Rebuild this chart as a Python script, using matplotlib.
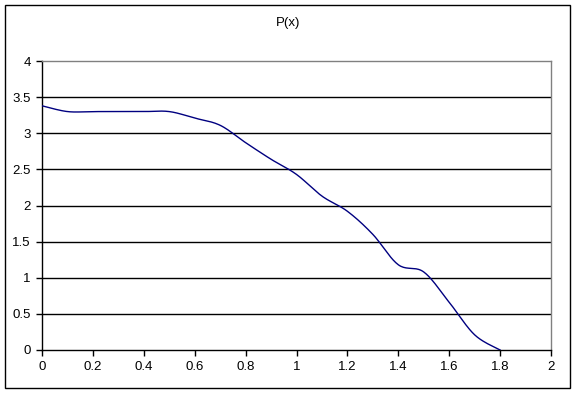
import numpy as np
import matplotlib
matplotlib.use("Agg")
import matplotlib.pyplot as plt
from matplotlib.patches import Rectangle

plt.rcParams["font.family"] = ["Liberation Sans", "DejaVu Sans"]

# values
x_vals = [0.0, 0.1, 0.2, 0.3, 0.4, 0.5, 0.6, 0.7, 0.8, 0.9,
          1.0, 1.1, 1.2, 1.3, 1.4, 1.5, 1.6, 1.7, 1.8]
p_vals = [3.38, 3.3, 3.3, 3.3, 3.3, 3.3, 3.21, 3.11, 2.87, 2.64,
          2.43, 2.13, 1.92, 1.6, 1.18, 1.08, 0.66, 0.21, 0.0]
x_ticks = [0, 0.2, 0.4, 0.6, 0.8, 1, 1.2, 1.4, 1.6, 1.8, 2]
y_ticks = [0, 0.5, 1, 1.5, 2, 2.5, 3, 3.5, 4]


def smooth(xs, ys, n=20):
    # catmull-rom style smoothing like the spreadsheet "smoothed line"
    xs = np.asarray(xs, float)
    ys = np.asarray(ys, float)
    px = np.concatenate([[xs[0]], xs, [xs[-1]]])
    py = np.concatenate([[ys[0]], ys, [ys[-1]]])
    out_x, out_y = [], []
    t = np.linspace(0, 1, n, endpoint=False)
    for i in range(1, len(px) - 2):
        p0x, p1x, p2x, p3x = px[i - 1], px[i], px[i + 1], px[i + 2]
        p0y, p1y, p2y, p3y = py[i - 1], py[i], py[i + 1], py[i + 2]
        c1x, c1y = p1x + (p2x - p0x) / 6, p1y + (p2y - p0y) / 6
        c2x, c2y = p2x - (p3x - p1x) / 6, p2y - (p3y - p1y) / 6
        bx = (1 - t) ** 3 * p1x + 3 * (1 - t) ** 2 * t * c1x + 3 * (1 - t) * t ** 2 * c2x + t ** 3 * p2x
        by = (1 - t) ** 3 * p1y + 3 * (1 - t) ** 2 * t * c1y + 3 * (1 - t) * t ** 2 * c2y + t ** 3 * p2y
        out_x.extend(bx)
        out_y.extend(by)
    out_x.append(xs[-1])
    out_y.append(ys[-1])
    return out_x, out_y


fig = plt.figure(figsize=(5.76, 3.94), dpi=100)
ax = fig.add_axes([42 / 576, 1 - 350 / 394, 509 / 576, 289 / 394])

sx, sy = smooth(x_vals, p_vals)
ax.plot(sx, sy, color="#000080", lw=1.0, zorder=3)

ax.set_xlim(0, 2)
ax.set_ylim(0, 4)
ax.set_xticks(x_ticks)
ax.set_xticklabels([f"{v:g}" for v in x_ticks])
ax.set_yticks(y_ticks)
ax.set_yticklabels([f"{v:g}" for v in y_ticks])
for y in y_ticks[1:-1]:
    ax.axhline(y, color="black", lw=1.0, zorder=1)

ax.tick_params(direction="out", length=4, width=1, color="black",
               labelsize=9.5, pad=4)
ax.spines["left"].set_color("black")
ax.spines["bottom"].set_color("black")
ax.spines["top"].set_color("#808080")
ax.spines["right"].set_color("#808080")
for s in ax.spines.values():
    s.set_linewidth(1.0)

fig.text(288 / 576, 1 - 23 / 394, "P(x)", ha="center", va="center", fontsize=9.5)

fig.patches.append(Rectangle((5 / 576, 1 - 388 / 394), 565 / 576, 383 / 394,
                             transform=fig.transFigure, fill=False,
                             edgecolor="black", lw=1.0))

fig.savefig("out.png", dpi=100)
